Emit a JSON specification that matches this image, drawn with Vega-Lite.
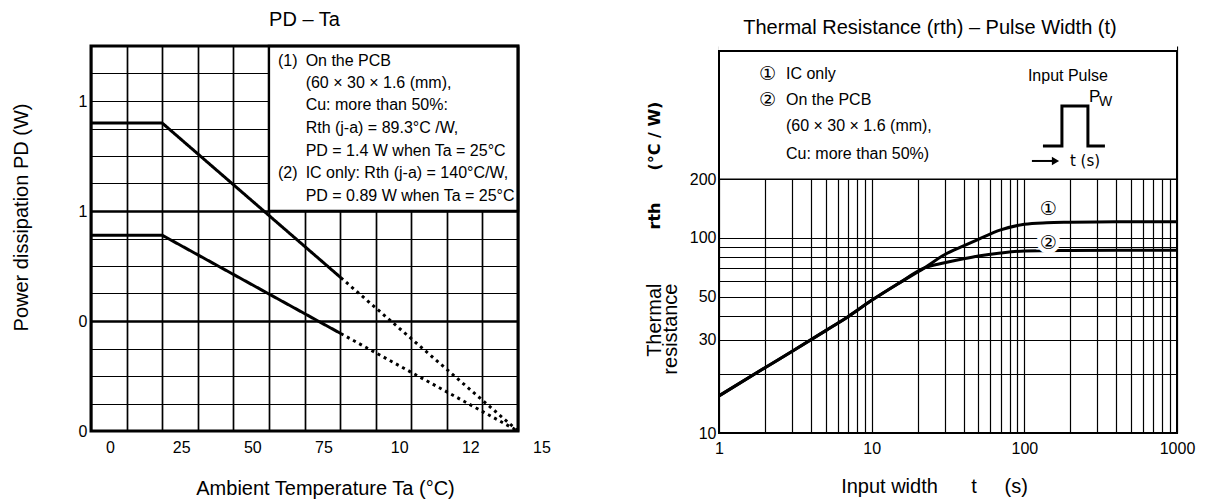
{
  "$schema": "https://vega.github.io/schema/vega-lite/v6.json",
  "padding": {"left": 11, "top": 10, "right": 5, "bottom": 5},
  "spacing": 201,
  "bounds": "flush",
  "config": {
    "font": "Liberation Sans",
    "view": {"stroke": null},
    "axis": {"labelFont": "Liberation Sans", "titleFont": "Liberation Sans", "titleFontWeight": "normal", "labelColor": "#000", "titleColor": "#000"},
    "title": {"font": "Liberation Sans", "fontWeight": "normal", "color": "#000"}
  },
  "datasets": {
    "derating": [
      {"Ta": 0, "PD": 1.4, "series": "(1) On the PCB", "segment": "rated"},
      {"Ta": 25, "PD": 1.4, "series": "(1) On the PCB", "segment": "rated"},
      {"Ta": 87.75, "PD": 0.697, "series": "(1) On the PCB", "segment": "rated"},
      {"Ta": 87.75, "PD": 0.697, "series": "(1) On the PCB", "segment": "extrapolated"},
      {"Ta": 150, "PD": 0, "series": "(1) On the PCB", "segment": "extrapolated"},
      {"Ta": 0, "PD": 0.89, "series": "(2) IC only", "segment": "rated"},
      {"Ta": 25, "PD": 0.89, "series": "(2) IC only", "segment": "rated"},
      {"Ta": 87.75, "PD": 0.443, "series": "(2) IC only", "segment": "rated"},
      {"Ta": 87.75, "PD": 0.443, "series": "(2) IC only", "segment": "extrapolated"},
      {"Ta": 150, "PD": 0, "series": "(2) IC only", "segment": "extrapolated"}
    ],
    "left_notes": [
      {"Ta": 65.7, "PD": 1.682, "text": "(1)"},
      {"Ta": 75.4, "PD": 1.682, "text": "On the PCB"},
      {"Ta": 75.4, "PD": 1.582, "text": "(60 × 30 × 1.6 (mm),"},
      {"Ta": 75.4, "PD": 1.482, "text": "Cu: more than 50%:"},
      {"Ta": 75.4, "PD": 1.377, "text": "Rth (j-a) = 89.3°C /W,"},
      {"Ta": 75.4, "PD": 1.273, "text": "PD = 1.4 W when Ta = 25°C"},
      {"Ta": 65.7, "PD": 1.173, "text": "(2)"},
      {"Ta": 75.4, "PD": 1.173, "text": "IC only: Rth (j-a) = 140°C/W,"},
      {"Ta": 75.4, "PD": 1.068, "text": "PD = 0.89 W when Ta = 25°C"}
    ],
    "rth": [
      {"t": 1, "rth": 15.5, "curve": "① IC only"},
      {"t": 2, "rth": 21.6, "curve": "① IC only"},
      {"t": 3, "rth": 26.2, "curve": "① IC only"},
      {"t": 5, "rth": 33.5, "curve": "① IC only"},
      {"t": 7, "rth": 39.5, "curve": "① IC only"},
      {"t": 10, "rth": 47.9, "curve": "① IC only"},
      {"t": 15, "rth": 58.5, "curve": "① IC only"},
      {"t": 22, "rth": 70, "curve": "① IC only"},
      {"t": 30, "rth": 82, "curve": "① IC only"},
      {"t": 40, "rth": 91, "curve": "① IC only"},
      {"t": 50, "rth": 98.4, "curve": "① IC only"},
      {"t": 70, "rth": 110, "curve": "① IC only"},
      {"t": 100, "rth": 117.5, "curve": "① IC only"},
      {"t": 140, "rth": 119.7, "curve": "① IC only"},
      {"t": 200, "rth": 120.5, "curve": "① IC only"},
      {"t": 400, "rth": 121.3, "curve": "① IC only"},
      {"t": 1000, "rth": 121, "curve": "① IC only"},
      {"t": 1, "rth": 15.5, "curve": "② On the PCB"},
      {"t": 2, "rth": 21.6, "curve": "② On the PCB"},
      {"t": 3, "rth": 26.2, "curve": "② On the PCB"},
      {"t": 5, "rth": 33.5, "curve": "② On the PCB"},
      {"t": 7, "rth": 39.5, "curve": "② On the PCB"},
      {"t": 10, "rth": 47.9, "curve": "② On the PCB"},
      {"t": 15, "rth": 58.5, "curve": "② On the PCB"},
      {"t": 22, "rth": 70, "curve": "② On the PCB"},
      {"t": 30, "rth": 74.6, "curve": "② On the PCB"},
      {"t": 40, "rth": 78.3, "curve": "② On the PCB"},
      {"t": 50, "rth": 80.9, "curve": "② On the PCB"},
      {"t": 70, "rth": 83.8, "curve": "② On the PCB"},
      {"t": 100, "rth": 85.8, "curve": "② On the PCB"},
      {"t": 200, "rth": 86.3, "curve": "② On the PCB"},
      {"t": 400, "rth": 86.5, "curve": "② On the PCB"},
      {"t": 1000, "rth": 86.5, "curve": "② On the PCB"}
    ],
    "right_notes": [
      {"t": 2.746, "rth": 696, "text": "IC only"},
      {"t": 2.746, "rth": 508, "text": "On the PCB"},
      {"t": 2.746, "rth": 375, "text": "(60 × 30 × 1.6 (mm),"},
      {"t": 2.746, "rth": 270, "text": "Cu: more than 50%)"}
    ],
    "circled": [
      {"t": 2.075, "rth": 696, "text": "①"},
      {"t": 2.075, "rth": 508, "text": "②"},
      {"t": 143.5, "rth": 140, "text": "①"},
      {"t": 143.5, "rth": 94.6, "text": "②"}
    ],
    "curve_tags": [
      {"t": 143.5, "rth": 94.6, "text": "②"}
    ],
    "pulse": [
      {"t": 132.4, "rth": 296.3, "i": 0},
      {"t": 176.3, "rth": 296.3, "i": 1},
      {"t": 176.3, "rth": 475.5, "i": 2},
      {"t": 260.9, "rth": 475.5, "i": 3},
      {"t": 260.9, "rth": 296.3, "i": 4},
      {"t": 337.2, "rth": 296.3, "i": 5}
    ],
    "arrow": [
      {"t": 112.1, "rth": 248.3},
      {"t": 157, "rth": 248.3}
    ],
    "arrow_head": [
      {"t": 160, "rth": 248.3}
    ],
    "pulse_title": [
      {"t": 193, "rth": 678, "text": "Input Pulse"}
    ],
    "pulse_p": [
      {"t": 264.9, "rth": 528.5, "text": "P"}
    ],
    "pulse_w": [
      {"t": 307.9, "rth": 497, "text": "W"}
    ],
    "pulse_t": [
      {"t": 198.9, "rth": 248.3, "text": "t (s)"}
    ],
    "unit_text": [
      {"t": 0.381, "rth": 129.7, "text": "rth"},
      {"t": 0.381, "rth": 333, "text": "(°C / W)"}
    ]
  },
  "hconcat": [
    {
      "width": 427,
      "height": 385,
      "title": {"text": "PD – Ta", "fontSize": 20, "offset": 8},
      "layer": [
        {
          "data": {"name": "derating"},
          "mark": {"type": "line", "strokeWidth": 3, "color": "black", "strokeCap": "butt"},
          "encoding": {
            "x": {
              "field": "Ta", "type": "quantitative",
              "scale": {"domain": [0, 150], "nice": false, "zero": false},
              "axis": {
                "values": [0, 12.5, 25, 37.5, 50, 62.5, 75, 87.5, 100, 112.5, 125, 137.5, 150],
                "tickCount": 100,
                "grid": true, "gridColor": "black", "gridWidth": 1.7, "gridOpacity": 1,
                "domain": false, "ticks": false,
                "labelExpr": "datum.value % 25 === 0 ? substring(format(datum.value, 'd'), 0, 2) : ''",
                "labelOffset": {"condition": {"test": "datum.value >= 100", "value": 23.5}, "value": 19},
                "labelPadding": 8, "labelFontSize": 16, "labelOverlap": false, "labelFlush": false, "labelBound": false,
                "title": "Ambient Temperature Ta (°C)", "titleFontSize": 20,
                "titleX": 234, "titleY": 57, "titleBaseline": "middle", "titleAlign": "center"
              }
            },
            "y": {
              "field": "PD", "type": "quantitative",
              "scale": {"domain": [0, 1.75], "nice": false, "zero": false},
              "axis": {
                "values": [0, 0.125, 0.25, 0.375, 0.5, 0.625, 0.75, 0.875, 1, 1.125, 1.25, 1.375, 1.5, 1.625, 1.75],
                "tickCount": 100,
                "grid": true, "gridColor": "black", "gridOpacity": 1,
                "gridWidth": {"condition": {"test": "datum.value === 0.5 || datum.value === 1", "value": 2.4}, "value": 1.2},
                "domain": false, "ticks": false,
                "labelExpr": "datum.value % 0.5 === 0 ? substring(format(datum.value, '.1f'), 0, 1) : ''",
                "labelPadding": 4, "labelFontSize": 16, "labelOverlap": false, "labelFlush": false, "labelBound": false,
                "title": "Power dissipation PD (W)", "titleFontSize": 20,
                "titleX": -70, "titleY": 171, "titleBaseline": "middle", "titleAlign": "center"
              }
            },
            "detail": {"field": "series"},
            "strokeDash": {
              "field": "segment", "type": "nominal",
              "scale": {"domain": ["rated", "extrapolated"], "range": [[1, 0], [3, 4]]},
              "legend": null
            }
          }
        },
        {
          "data": {"values": [{}]},
          "mark": {"type": "rect", "fill": "white", "stroke": "black", "strokeWidth": 2.4},
          "encoding": {
            "x": {"datum": 62.5, "type": "quantitative"},
            "x2": {"datum": 150},
            "y": {"datum": 1, "type": "quantitative"},
            "y2": {"datum": 1.75}
          }
        },
        {
          "data": {"name": "left_notes"},
          "mark": {"type": "text", "align": "left", "baseline": "middle", "fontSize": 16, "color": "black"},
          "encoding": {
            "x": {"field": "Ta", "type": "quantitative"},
            "y": {"field": "PD", "type": "quantitative"},
            "text": {"field": "text"}
          }
        },
        {
          "data": {"values": [{}]},
          "mark": {"type": "rect", "fill": "white", "fillOpacity": 0, "stroke": "black", "strokeWidth": 3},
          "encoding": {
            "x": {"datum": 0, "type": "quantitative"},
            "x2": {"datum": 150},
            "y": {"datum": 0, "type": "quantitative"},
            "y2": {"datum": 1.75}
          }
        }
      ]
    },
    {
      "width": 458,
      "height": 387,
      "title": {"text": "Thermal Resistance (rth) – Pulse Width (t)", "fontSize": 20, "offset": 8, "dx": -18},
      "layer": [
        {
          "data": {"values": [{}]},
          "mark": {"type": "rect", "fill": "white", "strokeWidth": 0},
          "encoding": {
            "x": {
              "datum": 1, "type": "quantitative",
              "scale": {"type": "log", "domain": [1, 1000], "nice": false},
              "axis": {
                "values": [1, 2, 3, 4, 5, 6, 7, 8, 9, 10, 20, 30, 40, 50, 60, 70, 80, 90, 100, 200, 300, 400, 500, 600, 700, 800, 900, 1000],
                "tickCount": 100,
                "grid": true, "gridColor": "black", "gridWidth": 1.2, "gridOpacity": 1,
                "domain": false, "ticks": false,
                "labelExpr": "datum.value === 1 || datum.value === 10 || datum.value === 100 || datum.value === 1000 ? format(datum.value, 'd') : ''",
                "labelPadding": 7, "labelFontSize": 16, "labelOverlap": false, "labelFlush": false, "labelBound": false,
                "title": "Input width\u00a0\u00a0\u00a0\u00a0\u00a0\u00a0t\u00a0\u00a0\u00a0\u00a0\u00a0(s)", "titleFontSize": 20,
                "titleX": 215, "titleY": 53, "titleBaseline": "middle", "titleAlign": "center"
              }
            },
            "x2": {"datum": 1000},
            "y": {
              "datum": 200, "type": "quantitative",
              "scale": {"type": "log", "domain": [10, 965], "nice": false},
              "axis": {
                "values": [10, 20, 30, 40, 50, 60, 70, 80, 90, 100, 200],
                "tickCount": 100,
                "grid": true, "gridColor": "black", "gridWidth": 1.2, "gridOpacity": 1,
                "domain": false, "ticks": false,
                "labelExpr": "indexof([10, 30, 50, 100, 200], datum.value) >= 0 ? format(datum.value, 'd') : ''",
                "labelPadding": 3, "labelFontSize": 16, "labelOverlap": false, "labelFlush": false, "labelBound": false,
                "title": ["Thermal", "resistance"], "titleFontSize": 20, "titleLineHeight": 16,
                "titleX": -75, "titleY": 237, "titleBaseline": "top", "titleAlign": "right"
              }
            },
            "y2": {"datum": 965}
          }
        },
        {
          "data": {"values": [{}]},
          "mark": {"type": "rule", "color": "black", "strokeWidth": 1.5},
          "encoding": {
            "x": {"datum": 1, "type": "quantitative"},
            "x2": {"datum": 1000},
            "y": {"datum": 200, "type": "quantitative"}
          }
        },
        {
          "data": {"name": "rth"},
          "mark": {"type": "line", "strokeWidth": 3, "color": "black", "interpolate": "monotone"},
          "encoding": {
            "x": {"field": "t", "type": "quantitative"},
            "y": {"field": "rth", "type": "quantitative"},
            "detail": {"field": "curve"}
          }
        },
        {
          "data": {"name": "curve_tags"},
          "mark": {"type": "text", "align": "center", "baseline": "middle", "fontSize": 19, "color": "white", "stroke": "white", "strokeWidth": 9, "font": "DejaVu Sans"},
          "encoding": {
            "x": {"field": "t", "type": "quantitative"},
            "y": {"field": "rth", "type": "quantitative"},
            "text": {"field": "text"}
          }
        },
        {
          "data": {"name": "circled"},
          "mark": {"type": "text", "align": "center", "baseline": "middle", "fontSize": 19, "color": "black", "font": "DejaVu Sans"},
          "encoding": {
            "x": {"field": "t", "type": "quantitative"},
            "y": {"field": "rth", "type": "quantitative"},
            "text": {"field": "text"}
          }
        },
        {
          "data": {"name": "right_notes"},
          "mark": {"type": "text", "align": "left", "baseline": "middle", "fontSize": 16, "color": "black"},
          "encoding": {
            "x": {"field": "t", "type": "quantitative"},
            "y": {"field": "rth", "type": "quantitative"},
            "text": {"field": "text"}
          }
        },
        {
          "data": {"name": "pulse_title"},
          "mark": {"type": "text", "align": "center", "baseline": "middle", "fontSize": 16, "color": "black"},
          "encoding": {
            "x": {"field": "t", "type": "quantitative"},
            "y": {"field": "rth", "type": "quantitative"},
            "text": {"field": "text"}
          }
        },
        {
          "data": {"name": "pulse"},
          "mark": {"type": "line", "strokeWidth": 3, "color": "black", "strokeJoin": "miter"},
          "encoding": {
            "x": {"field": "t", "type": "quantitative"},
            "y": {"field": "rth", "type": "quantitative"},
            "order": {"field": "i"}
          }
        },
        {
          "data": {"name": "arrow"},
          "mark": {"type": "line", "strokeWidth": 2, "color": "black"},
          "encoding": {
            "x": {"field": "t", "type": "quantitative"},
            "y": {"field": "rth", "type": "quantitative"}
          }
        },
        {
          "data": {"name": "arrow_head"},
          "mark": {"type": "point", "shape": "triangle-right", "filled": true, "color": "black", "size": 70, "opacity": 1},
          "encoding": {
            "x": {"field": "t", "type": "quantitative"},
            "y": {"field": "rth", "type": "quantitative"}
          }
        },
        {
          "data": {"name": "pulse_p"},
          "mark": {"type": "text", "align": "left", "baseline": "middle", "fontSize": 17, "color": "black"},
          "encoding": {
            "x": {"field": "t", "type": "quantitative"},
            "y": {"field": "rth", "type": "quantitative"},
            "text": {"field": "text"}
          }
        },
        {
          "data": {"name": "pulse_w"},
          "mark": {"type": "text", "align": "left", "baseline": "middle", "fontSize": 14, "color": "black"},
          "encoding": {
            "x": {"field": "t", "type": "quantitative"},
            "y": {"field": "rth", "type": "quantitative"},
            "text": {"field": "text"}
          }
        },
        {
          "data": {"name": "pulse_t"},
          "mark": {"type": "text", "align": "left", "baseline": "middle", "fontSize": 15, "color": "black", "font": "DejaVu Sans"},
          "encoding": {
            "x": {"field": "t", "type": "quantitative"},
            "y": {"field": "rth", "type": "quantitative"},
            "text": {"field": "text"}
          }
        },
        {
          "data": {"name": "unit_text"},
          "mark": {"type": "text", "align": "center", "baseline": "middle", "fontSize": 16, "fontWeight": "bold", "angle": 270, "color": "black", "font": "DejaVu Sans"},
          "encoding": {
            "x": {"field": "t", "type": "quantitative"},
            "y": {"field": "rth", "type": "quantitative"},
            "text": {"field": "text"}
          }
        },
        {
          "data": {"values": [{}]},
          "mark": {"type": "rect", "fill": "white", "fillOpacity": 0, "stroke": "black", "strokeWidth": 2},
          "encoding": {
            "x": {"datum": 1, "type": "quantitative"},
            "x2": {"datum": 1000},
            "y": {"datum": 10, "type": "quantitative"},
            "y2": {"datum": 910}
          }
        }
      ]
    }
  ]
}
